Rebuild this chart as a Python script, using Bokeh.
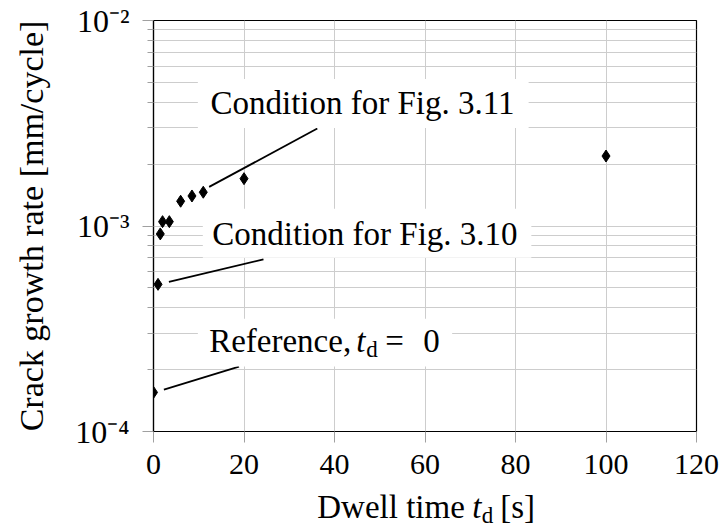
from bokeh.plotting import figure
from bokeh.models import Range1d, FixedTicker, Label, BoxAnnotation
from bokeh.layouts import column
from bokeh.embed import file_html
from bokeh.resources import INLINE

# ---- data ----
dwell_time = [0, 1, 1.5, 2, 3.5, 6, 8.5, 11, 20, 100]
growth_rate = [1.55e-4, 5.2e-4, 9.15e-4, 1.05e-3, 1.05e-3, 1.32e-3, 1.40e-3, 1.46e-3, 1.70e-3, 2.19e-3]

x_ticks = [0, 20, 40, 60, 80, 100, 120]
y_ticks = [1e-4, 1e-3, 1e-2]
y_tick_labels = ["10\u207b\u2074", "10\u207b\u00b3", "10\u207b\u00b2"]

# pin lines (from near point to label box)
pin_x0 = [12.3, 3.4, 2.3]
pin_y0 = [1.55e-3, 5.34e-4, 1.6e-4]
pin_x1 = [36.2, 24.3, 18.9]
pin_y1 = [2.98e-3, 6.88e-4, 2.07e-4]

# label boxes (data units): left, right, bottom, top
box_left = [9.8, 10.9, 9.8]
box_right = [82.9, 83.5, 66.0]
box_bottom = [3.0e-3, 7.01e-4, 2.07e-4]
box_top = [5.19e-3, 1.213e-3, 3.54e-4]

# label anchors (left of text, vertical middle)
ann_text = ["Condition for Fig. 3.11", "Condition for Fig. 3.10"]
ann_x = [12.6, 13.0]
ann_y = [3.95e-3, 9.15e-4]
ref_x = 12.3
ref_y = 2.76e-4

FONT = "'Liberation Serif'"
GRID = "#cdcdcd"

p = figure(width=722, height=485, x_range=Range1d(0, 120), y_range=Range1d(1e-4, 1e-2),
           y_axis_type="log", output_backend="svg", toolbar_location=None,
           min_border_left=153, min_border_right=26, min_border_top=20, min_border_bottom=54)
p.background_fill_color = "white"
p.border_fill_color = "white"
p.outline_line_color = "black"
p.outline_line_width = 1.2

xt = FixedTicker(ticks=x_ticks)
minor = [m * 10.0 ** e for e in (-4, -3) for m in range(2, 10)]
yt = FixedTicker(ticks=y_ticks, minor_ticks=minor)
p.xaxis.ticker = xt
p.yaxis.ticker = yt
p.xgrid.ticker = xt
p.ygrid.ticker = yt
p.yaxis.major_label_overrides = {t: l for t, l in zip(y_ticks, y_tick_labels)}

p.xgrid.grid_line_color = GRID
p.ygrid.grid_line_color = GRID
p.ygrid.minor_grid_line_color = GRID

for ax in (p.xaxis[0], p.yaxis[0]):
    ax.axis_line_color = "black"
    ax.axis_line_width = 1.2
    ax.major_tick_line_color = "#a0a0a0"
    ax.minor_tick_line_color = "#a0a0a0"
    ax.major_tick_out = 11
    ax.major_tick_in = 0
    ax.minor_tick_out = 6
    ax.minor_tick_in = 0
    ax.major_label_text_font = FONT
    ax.major_label_text_color = "black"

p.xaxis.major_label_text_font_size = "30px"
p.yaxis.major_label_text_font_size = "32px"
p.xaxis.major_label_standoff = 12
p.yaxis.major_label_standoff = 13

p.yaxis.axis_label = "Crack growth rate [mm/cycle]"
p.yaxis.axis_label_text_font = FONT
p.yaxis.axis_label_text_font_size = "34px"
p.yaxis.axis_label_text_font_style = "normal"
p.yaxis.axis_label_text_color = "black"
p.yaxis.axis_label_standoff = 22

# pins
p.segment(x0=pin_x0, y0=pin_y0, x1=pin_x1, y1=pin_y1, line_color="black", line_width=1.8)

# data points
p.scatter(dwell_time, growth_rate, marker="diamond", size=12, fill_color="black", line_color="black")

# white label boxes
for l, r, b, t in zip(box_left, box_right, box_bottom, box_top):
    p.add_layout(BoxAnnotation(left=l, right=r, bottom=b, top=t, fill_color="white",
                               fill_alpha=1.0, line_color=None))

# annotation labels
for txt, lx, ly in zip(ann_text, ann_x, ann_y):
    p.add_layout(Label(x=lx, y=ly, text=txt, text_font=FONT, text_font_size="33px",
                       text_baseline="middle", text_color="black"))

# "Reference, t_d = 0" built from pieces
ref_pieces = [("Reference,", 0, "normal", "33px", 0),
              ("t", 147, "italic", "33px", 0),
              ("d", 157, "normal", "23px", -9),
              ("=", 176, "normal", "33px", 0),
              ("0", 214, "normal", "33px", 0)]
for txt, dx, style, size, dy in ref_pieces:
    p.add_layout(Label(x=ref_x, y=ref_y, x_offset=dx, y_offset=dy, text=txt, text_font=FONT,
                       text_font_size=size, text_font_style=style, text_baseline="middle",
                       text_color="black"))

# strip below the plot holding the x axis label "Dwell time t_d [s]"
q = figure(width=722, height=43, x_range=Range1d(0, 722), y_range=Range1d(0, 43),
           output_backend="svg", toolbar_location=None, x_axis_location=None,
           y_axis_location=None, min_border=0)
q.outline_line_color = None
q.grid.visible = False
q.background_fill_color = "white"
q.border_fill_color = "white"

xl_x = 364
xl_y = 22
xl_pieces = [("Dwell time", -110, "normal", "33px", 0),
             ("t", 45, "italic", "33px", 0),
             ("d", 54.5, "normal", "23px", -9),
             ("[s]", 73, "normal", "33px", 0)]
for txt, dx, style, size, dy in xl_pieces:
    q.add_layout(Label(x=xl_x, y=xl_y, x_offset=dx, y_offset=dy, text=txt, text_font=FONT,
                       text_font_size=size, text_font_style=style, text_baseline="middle",
                       text_color="black"))

layout = column(p, q, spacing=0)
open("out.html", "w").write(file_html(layout, INLINE))
